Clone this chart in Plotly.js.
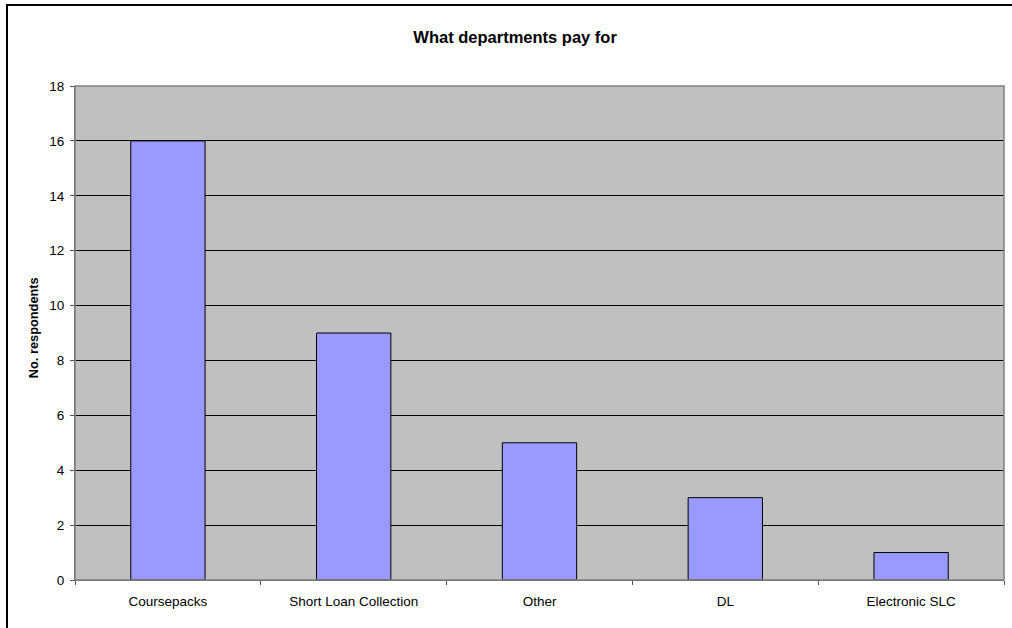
<!DOCTYPE html>
<html>
<head>
<meta charset="utf-8">
<script src="https://cdn.plot.ly/plotly-3.0.1.min.js"></script>
<style>
  html, body { margin: 0; padding: 0; background: #fff; overflow: hidden; }
  #chart { width: 1012px; height: 628px; position: absolute; left: 0; top: 0; }
  #frame { position: absolute; left: 6px; top: 4px; width: 1100px; height: 700px;
           border: 2px solid #000; pointer-events: none; box-sizing: border-box; }
</style>
</head>
<body>
<div id="chart"></div>
<div id="frame"></div>
<script>
const categories = ["Coursepacks", "Short Loan Collection", "Other", "DL", "Electronic SLC"];
const respondents = [16, 9, 5, 3, 1];
const yTicks = [0, 2, 4, 6, 8, 10, 12, 14, 16, 18];

const font = "Arial, 'Liberation Sans', sans-serif";

const trace = {
  type: "bar",
  x: categories,
  y: respondents,
  width: 0.4,
  marker: { color: "#9999FF", line: { color: "#000000", width: 1 } },
  hoverinfo: "x+y"
};

const layout = {
  width: 1012, height: 628,
  margin: { l: 75, r: 8, t: 86, b: 48, pad: 0 },
  paper_bgcolor: "#ffffff",
  plot_bgcolor: "#C0C0C0",
  showlegend: false,
  font: { family: font, size: 13.5, color: "#000" },
  title: {
    text: "<b>What departments pay for</b>",
    font: { family: font, size: 16.5, color: "#000" },
    x: 0.509, xanchor: "center", y: 0.94, yanchor: "middle"
  },
  xaxis: {
    type: "category",
    tickson: "boundaries",
    ticks: "outside", ticklen: 4, tickcolor: "#555", tickwidth: 1,
    ticklabelstandoff: 9,
    showgrid: false,
    showline: true, linecolor: "#555", linewidth: 1,
    tickfont: { family: font, size: 13.5, color: "#000" },
    fixedrange: true
  },
  yaxis: {
    range: [0, 18],
    tickvals: yTicks,
    ticktext: yTicks.map(String),
    ticks: "outside", ticklen: 4, tickcolor: "#555", tickwidth: 1,
    ticklabelstandoff: 3,
    showgrid: true, gridcolor: "#000000", gridwidth: 1,
    zeroline: false,
    showline: true, linecolor: "#555", linewidth: 1,
    tickfont: { family: font, size: 13.5, color: "#000" },
    fixedrange: true
  },
  shapes: [
    { type: "rect", xref: "paper", yref: "paper", x0: 0, x1: 1, y0: 0, y1: 1,
      line: { color: "#808080", width: 1.5 }, layer: "above" }
  ],
  annotations: [
    { text: "<b>No. respondents</b>", xref: "paper", yref: "paper",
      x: -0.045, y: 0.51, xanchor: "center", yanchor: "middle",
      textangle: -90, showarrow: false,
      font: { family: font, size: 12.8, color: "#000" } }
  ]
};

Plotly.newPlot("chart", [trace], layout, { displayModeBar: false, staticPlot: true });
</script>
</body>
</html>
